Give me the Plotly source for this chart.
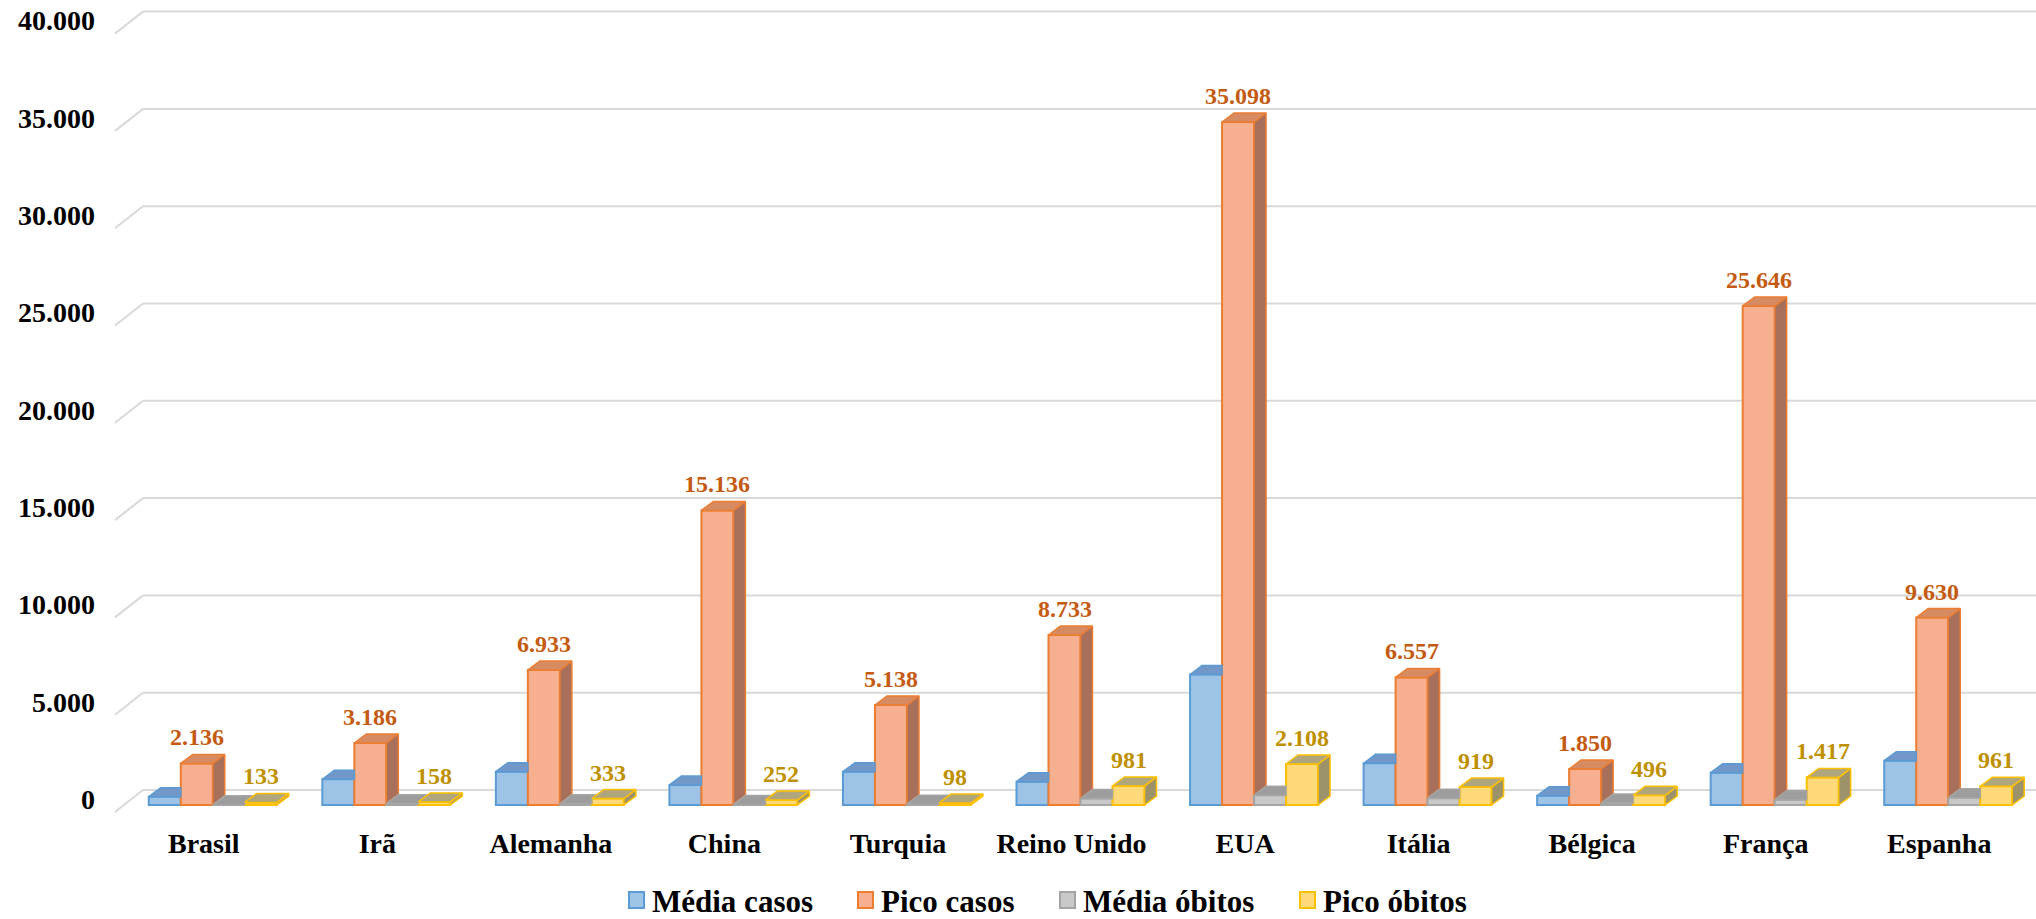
import plotly.graph_objects as go

# --- data -------------------------------------------------------------
paises = ["Brasil", "Irã", "Alemanha", "China", "Turquia", "Reino Unido",
          "EUA", "Itália", "Bélgica", "França", "Espanha"]
media_casos = [430, 1320, 1710, 1030, 1710, 1200, 6700, 2140, 480, 1660, 2280]
pico_casos = [2136, 3186, 6933, 15136, 5138, 8733, 35098, 6557, 1850, 25646, 9630]
media_obitos = [10, 70, 60, 30, 40, 330, 500, 350, 100, 270, 370]
pico_obitos = [133, 158, 333, 252, 98, 981, 2108, 919, 496, 1417, 961]
series_nomes = ["Média casos", "Pico casos", "Média óbitos", "Pico óbitos"]
y_tickvals = [0, 5000, 10000, 15000, 20000, 25000, 30000, 35000, 40000]
y_ticktext = ["0", "5.000", "10.000", "15.000", "20.000", "25.000",
              "30.000", "35.000", "40.000"]

series = [media_casos, pico_casos, media_obitos, pico_obitos]
rotulado = [False, True, False, True]

# --- styling ----------------------------------------------------------
FONT = "Liberation Serif"
front = ["#9DC3E6", "#F6B08F", "#C9C9C9", "#FFD97A"]
borda = ["#5B9BD5", "#ED7D31", "#A5A5A5", "#FFC000"]
topo = ["#7198C8", "#D68B63", "#9D9D9D", "#B0A67E"]
lado = ["#5F80AA", "#A8705B", "#878787", "#9C936A"]
cor_rotulo = [None, "#C55A11", None, "#BF9000"]

W, H = 2036, 919
M_L, M_R, M_T, M_B = 126, 1, 0, 104
PLOT_W = W - M_L - M_R
PLOT_H = H - M_T - M_B
PX_PER_UNIT = 778.4 / 40000.0          # vertical scale of the value axis
BASE_PX = 805                           # pixel row of value 0 (bar fronts)
Y_MIN = -(M_T + PLOT_H - BASE_PX) / PX_PER_UNIT
Y_MAX = (BASE_PX - M_T) / PX_PER_UNIT
CAT_PX = PLOT_W / len(paises)

BW = 32.0 / CAT_PX                      # single bar width (category units)
GW = 4 * BW                             # cluster width
DX = 12.0 / CAT_PX                      # depth offset, horizontal
DY = 9.0 / PX_PER_UNIT                  # depth offset, vertical
WALL = 15.0 / PX_PER_UNIT               # back wall offset of gridlines
FLOOR_DX, FLOOR_DY = 28.0, 22.0         # left floor edge slant (px)


def px_x(px):
    return (px - M_L) / PLOT_W


def px_y(py):
    return (M_T + PLOT_H - py) / PLOT_H


fig = go.Figure()

# gridlines on the back wall, with the slanted stub at the left side
for v in y_tickvals:
    yb = v + WALL
    fig.add_shape(type="line", xref="paper", yref="y",
                  x0=px_x(M_L - 11 + FLOOR_DX), x1=1.001, y0=yb, y1=yb,
                  line=dict(color="#D9D9D9", width=2), layer="below")
    fig.add_shape(type="line", xref="paper", yref="y",
                  x0=px_x(M_L - 11), y0=yb - FLOOR_DY / PX_PER_UNIT,
                  x1=px_x(M_L - 11 + FLOOR_DX), y1=yb,
                  line=dict(color="#D9D9D9", width=2), layer="below")

xs = list(range(len(paises)))

# front faces of the columns
for k, vals in enumerate(series):
    fig.add_trace(go.Bar(
        x=xs, y=vals, name=series_nomes[k],
        width=BW, offset=-GW / 2 + k * BW,
        marker=dict(color=front[k], line=dict(color=borda[k], width=2)),
        showlegend=False, hoverinfo="skip"))

# top and side faces (hidden parts removed against the next column)
for k, vals in enumerate(series):
    tx, ty, sx, sy = [], [], [], []
    for i, h in enumerate(vals):
        xl = i - GW / 2 + k * BW
        xr = xl + BW
        hn = series[k + 1][i] if k < len(series) - 1 else None
        if hn is None or hn <= h:
            top = [(xl, h), (xr, h), (xr + DX, h + DY), (xl + DX, h + DY)]
            hb = hn if hn is not None else 0
            side = [(xr, h), (xr + DX, h + DY), (xr + DX, hb + DY), (xr, hb)]
        else:
            if hn >= h + DY:
                top = [(xl, h), (xr, h), (xr, h + DY), (xl + DX, h + DY)]
            else:
                t = (h + DY - hn) / DY
                top = [(xl, h), (xr, h), (xr, hn),
                       (xr + DX * t, h + DY), (xl + DX, h + DY)]
            side = None
        for px_, py_ in top + [top[0]]:
            tx.append(px_)
            ty.append(py_)
        tx.append(None)
        ty.append(None)
        if side:
            for px_, py_ in side + [side[0]]:
                sx.append(px_)
                sy.append(py_)
            sx.append(None)
            sy.append(None)
    if sx:
        fig.add_trace(go.Scatter(x=sx, y=sy, mode="lines", fill="toself",
                                 fillcolor=lado[k],
                                 line=dict(color=borda[k], width=1.5),
                                 showlegend=False, hoverinfo="skip"))
    fig.add_trace(go.Scatter(x=tx, y=ty, mode="lines", fill="toself",
                             fillcolor=topo[k],
                             line=dict(color=borda[k], width=1.5),
                             showlegend=False, hoverinfo="skip"))


def fmt(v):
    return f"{v:,}".replace(",", ".")


# value labels above the peak series
for k, vals in enumerate(series):
    if not rotulado[k]:
        continue
    for i, h in enumerate(vals):
        fig.add_annotation(
            x=i - GW / 2 + k * BW + BW / 2, y=h, xref="x", yref="y",
            text=fmt(h), showarrow=False, yanchor="middle", yshift=26,
            font=dict(family=FONT, size=24, color=cor_rotulo[k],
                      weight="bold"))

# legend drawn as swatches plus text
LEG_X = [629, 858, 1060, 1300]
LEG_Y = 900
for k, nome in enumerate(series_nomes):
    fig.add_shape(type="rect", xref="paper", yref="paper",
                  x0=px_x(LEG_X[k]), x1=px_x(LEG_X[k] + 15),
                  y0=px_y(LEG_Y + 8), y1=px_y(LEG_Y - 8),
                  fillcolor=front[k], line=dict(color=borda[k], width=2))
    fig.add_annotation(x=px_x(LEG_X[k] + 21), y=px_y(LEG_Y + 1),
                       xref="paper", yref="paper", text=nome,
                       showarrow=False, xanchor="left", yanchor="middle",
                       font=dict(family=FONT, size=31, color="black",
                                 weight="bold"))

fig.update_layout(
    width=W, height=H, barmode="overlay",
    margin=dict(l=M_L, r=M_R, t=M_T, b=M_B, pad=0),
    paper_bgcolor="white", plot_bgcolor="white",
    showlegend=False,
    xaxis=dict(range=[-0.5, len(paises) - 0.5], tickvals=xs, ticktext=paises,
               showgrid=False, zeroline=False, showline=False,
               ticks="", ticklabelshift=-9, ticklabelstandoff=9,
               tickfont=dict(family=FONT, size=28, color="black",
                             weight="bold")),
    yaxis=dict(range=[Y_MIN, Y_MAX], tickvals=y_tickvals, ticktext=y_ticktext,
               showgrid=False, zeroline=False, showline=False,
               ticks="", ticklabelshift=-6, ticklabelstandoff=30,
               tickfont=dict(family=FONT, size=28, color="black",
                             weight="bold")),
)

fig.write_html("out.html")
